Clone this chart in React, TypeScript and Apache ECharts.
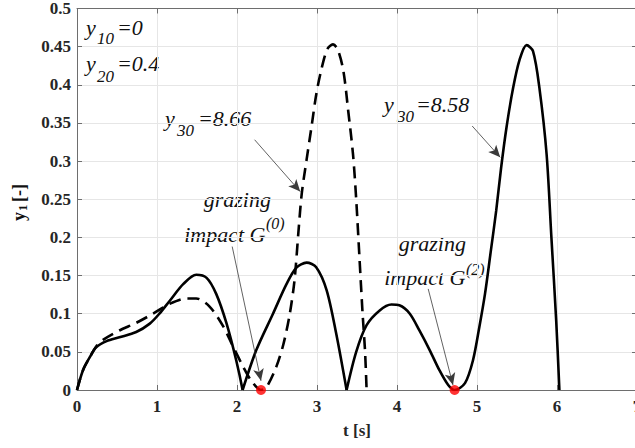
import React, { useEffect, useRef } from "react";
import * as echarts from "echarts";

// ---- data (t [s], y1 [-]) ----
const solidArch1: [number, number][] = [
  [0, 0], [0.075, 0.026], [0.16, 0.043], [0.24, 0.056], [0.37, 0.064], [0.53, 0.069],
  [0.74, 0.076], [0.91, 0.087], [1.03, 0.1], [1.16, 0.117], [1.33, 0.139], [1.49, 0.151],
  [1.62, 0.147], [1.74, 0.126], [1.87, 0.087], [1.99, 0.039], [2.07, 0],
];
const solidArch2: [number, number][] = [
  [2.07, 0], [2.24, 0.052], [2.45, 0.1], [2.62, 0.139], [2.74, 0.16], [2.87, 0.167],
  [2.99, 0.161], [3.12, 0.131], [3.24, 0.074], [3.37, 0],
];
const solidArch3: [number, number][] = [
  [3.37, 0], [3.49, 0.05], [3.62, 0.085], [3.78, 0.104], [3.93, 0.112], [4.03, 0.111],
  [4.16, 0.1], [4.28, 0.078], [4.41, 0.052], [4.53, 0.026], [4.64, 0.0065], [4.72, 0],
  [4.85, 0.009], [4.95, 0.039], [5.03, 0.083], [5.1, 0.126], [5.17, 0.18], [5.24, 0.235],
  [5.3, 0.29], [5.37, 0.345], [5.45, 0.395], [5.53, 0.432], [5.62, 0.452], [5.7, 0.444],
  [5.78, 0.396], [5.87, 0.309], [5.93, 0.2], [5.99, 0.091], [6.03, 0],
];
const dashedCurve: [number, number][] = [
  [0, 0], [0.075, 0.026], [0.16, 0.043], [0.24, 0.057], [0.33, 0.066], [0.53, 0.078],
  [0.74, 0.088], [0.95, 0.1], [1.16, 0.113], [1.37, 0.12], [1.49, 0.12], [1.66, 0.109],
  [1.83, 0.083], [1.95, 0.057], [2.08, 0.03], [2.18, 0.012], [2.3, 0], [2.37, 0.004],
  [2.49, 0.03], [2.58, 0.06], [2.66, 0.1], [2.72, 0.145], [2.77, 0.21], [2.81, 0.258],
  [2.87, 0.302], [2.93, 0.344], [2.99, 0.387], [3.05, 0.418], [3.13, 0.447], [3.2, 0.453],
  [3.26, 0.446], [3.33, 0.418], [3.39, 0.366], [3.45, 0.309], [3.49, 0.25], [3.53, 0.175],
  [3.57, 0.1], [3.6, 0.052], [3.62, 0],
];
const grazingPoints: [number, number][] = [[2.3, 0], [4.72, 0]];
const arrowFrom: [number, number][] = [[2.22, 0.328], [4.94, 0.346], [1.94, 0.188], [4.39, 0.1325]];
const arrowTo: [number, number][] = [[2.79, 0.26], [5.29, 0.305], [2.3, 0.012], [4.7, 0.0065]];

const SERIF = "Liberation Serif";
const AXIS = "#6e6e6e";
const LABEL = "#262626";

const txt = (
  text: string, x: number, y: number, size: number,
  align: string = "left", italic = true, bold = false
) => ({
  type: "text", x, y, silent: true,
  style: {
    text, fontSize: size, fontFamily: SERIF,
    fontStyle: italic ? "italic" : "normal",
    fontWeight: bold ? "bold" : "normal",
    fill: "#111", align, verticalAlign: "middle",
  },
});

export default function App() {
  const ref = useRef<HTMLDivElement>(null);
  useEffect(() => {
    if (!ref.current) return;
    const chart = echarts.init(ref.current, undefined, { renderer: "svg" });
    const lineCommon = {
      type: "line", showSymbol: false, smooth: 0.3, silent: true,
      xAxisIndex: 0, yAxisIndex: 0,
    };
    chart.setOption({
      animation: false,
      backgroundColor: "#ffffff",
      textStyle: { fontFamily: SERIF },
      grid: { left: 77, top: 6, width: 560, height: 384, containLabel: false },
      xAxis: [
        {
          type: "value", min: 0, max: 7, interval: 1, position: "bottom",
          axisLine: { show: true, onZero: false, lineStyle: { color: AXIS, width: 1 } },
          axisTick: { show: true, inside: true, length: 5, lineStyle: { color: AXIS } },
          axisLabel: { fontSize: 17, fontWeight: "bold", fontFamily: SERIF, color: LABEL, margin: 8 },
          splitLine: { show: true, lineStyle: { color: "#e6e6e6", width: 1 } },
          name: "t [s]", nameLocation: "middle", nameGap: 32,
          nameTextStyle: { fontSize: 17, fontWeight: "bold", fontFamily: SERIF, color: LABEL },
        },
        {
          type: "value", min: 0, max: 7, interval: 1, position: "top",
          axisLine: { show: true, onZero: false, lineStyle: { color: AXIS, width: 1 } },
          axisTick: { show: true, inside: true, length: 5, lineStyle: { color: AXIS } },
          axisLabel: { show: false }, splitLine: { show: false },
        },
      ],
      yAxis: [
        {
          type: "value", min: 0, max: 0.5, interval: 0.05, position: "left",
          axisLine: { show: true, onZero: false, lineStyle: { color: AXIS, width: 1 } },
          axisTick: { show: true, inside: true, length: 5, lineStyle: { color: AXIS } },
          axisLabel: { fontSize: 17, fontWeight: "bold", fontFamily: SERIF, color: LABEL, margin: 6 },
          splitLine: { show: true, lineStyle: { color: "#e6e6e6", width: 1 } },
        },
        {
          type: "value", min: 0, max: 0.5, interval: 0.05, position: "right",
          axisLine: { show: true, onZero: false, lineStyle: { color: AXIS, width: 1 } },
          axisTick: { show: true, inside: true, length: 5, lineStyle: { color: AXIS } },
          axisLabel: { show: false }, splitLine: { show: false },
        },
      ],
      series: [
        { ...lineCommon, name: "dashed", data: dashedCurve,
          lineStyle: { color: "#000", width: 2.6, type: [12, 7] } },
        { ...lineCommon, name: "solid1", data: solidArch1, lineStyle: { color: "#000", width: 2.6 } },
        { ...lineCommon, name: "solid2", data: solidArch2, lineStyle: { color: "#000", width: 2.6 } },
        { ...lineCommon, name: "solid3", data: solidArch3, lineStyle: { color: "#000", width: 2.6 } },
        {
          type: "scatter", name: "grazing", data: grazingPoints, symbolSize: 10, z: 5,
          itemStyle: { color: "#ff0000" }, silent: true,
          markLine: {
            silent: true, animation: false,
            symbol: ["none", "arrow"], symbolSize: [8, 12],
            label: { show: false },
            lineStyle: { color: "#3a3a3a", width: 0.8, type: "solid" },
            itemStyle: { color: "#111" },
            emphasis: { disabled: true },
            data: arrowFrom.map((f, i) => [{ coord: f }, { coord: arrowTo[i] }]),
          },
        },
      ],
      graphic: [
        txt("y", 86, 27.6, 22), txt("10", 97, 38.9, 17), txt("=0", 117, 27.6, 22),
        txt("y", 86, 63.1, 22), txt("20", 97, 76.1, 17), txt("=0.4", 117, 63.1, 22),
        txt("y", 165, 118.6, 22), txt("30", 177, 130.6, 17), txt("=8.66", 198, 118.6, 22),
        txt("y", 384, 104.3, 22), txt("30", 397, 116.3, 17), txt("=8.58", 416, 104.3, 22),
        txt("grazing", 271, 199.6, 22, "right"),
        txt("impact G", 265.5, 234.6, 22, "right"), txt("(0)", 266, 223, 16),
        txt("grazing", 466, 243.6, 22, "right"),
        txt("impact G", 465.5, 277.6, 22, "right"), txt("(2)", 466, 269.5, 16),
        {
          type: "group", x: 18.5, y: 202, rotation: Math.PI / 2, silent: true,
          children: [
            txt("y", -19, 0, 18, "left", false, true),
            txt("1", -9, 3.5, 13, "left", false, true),
            txt("[-]", 0, 0, 18, "left", false, true),
          ],
        },
      ],
    });
    return () => chart.dispose();
  }, []);
  return (
    <div style={{ position: "fixed", left: 0, top: 0, width: 635, height: 448, overflow: "hidden", background: "#fff" }}>
      <div ref={ref} style={{ width: 645, height: 448 }} />
    </div>
  );
}
